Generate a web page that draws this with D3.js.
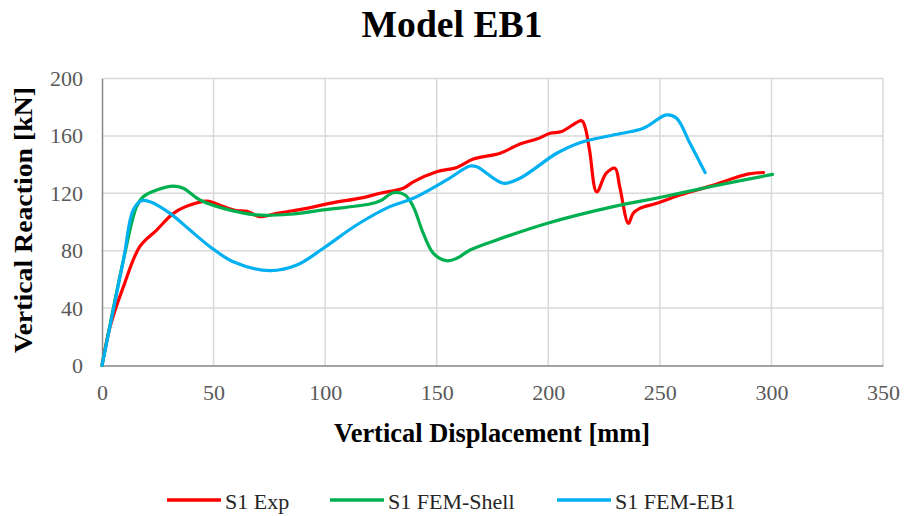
<!DOCTYPE html>
<html><head><meta charset="utf-8">
<script src="https://cdn.jsdelivr.net/npm/d3@7"></script>
<style>body{margin:0;background:#fff}svg{display:block}
svg text{font-family:"Liberation Serif","Times New Roman","DejaVu Serif",serif !important;}
</style>
</head><body>
<svg id="chart" width="905" height="516"></svg>
<script>
const title = "Model EB1";
const xLabel = "Vertical Displacement [mm]";
const yLabel = "Vertical Reaction [kN]";
const xTicks = [0, 50, 100, 150, 200, 250, 300, 350];
const yTicks = [0, 40, 80, 120, 160, 200];
const seriesNames = ["S1 Exp", "S1 FEM-Shell", "S1 FEM-EB1"];
const seriesColors = ["#ff0000", "#00b050", "#00b0f0"];

const expX = [0,3.6,9.6,17,24.5,32,39.4,47,54.4,60,65,70.8,78.3,91.7,102,117,124.6,135,139.5,150,159,166.4,178.4,187.3,194.8,200.8,206,215,216.5,218.5,221.7,226,229.9,232,235.9,238,241,248.6,259,272.5,282,290,296.5];
const expY = [0,27,55,83,94.4,106,111.8,114.6,110.7,108,107.5,103.7,106,109.5,113,117,120,123.5,128,135,138,143.9,147.9,154.4,157.8,161.8,163,170.6,166,150,121,134,137.4,124.6,99,106,109.5,113,118.8,125,130,133.5,134.5];

const shellX = [0,9.6,15.5,18.5,24.5,32,36.4,43.9,54.4,69.3,84.3,99.2,120,125,130.5,135.8,139.5,144,148.5,154.5,159,165,176.9,199.3,229.1,251.5,272.5,300.5];
const shellY = [0,73.5,110.7,117.6,122.3,125,123.5,115.3,109.5,104.9,105.4,108.4,112.5,115,120.4,118.8,110.7,92,78.2,73,74.7,80.5,87.5,99,110.7,117.6,124.6,133.2];

const eb1X = [0,9.6,14,17.8,21.5,30.5,39.4,48.4,58.8,75.3,87.3,99.2,114.1,129,139.5,154.5,164.9,168,179.8,187.3,203.8,214.2,229.1,242.6,253,257.5,263.5,270.3];
const eb1Y = [0,73.5,108.4,114.8,114.1,106,94.4,82.8,72.3,66.1,70,81.7,97.9,110.7,116.5,129.3,139,138.5,127,130.5,147.9,155.3,160.6,165.3,174.6,172.3,154.8,134.4];

const seriesX = [expX, shellX, eb1X];
const seriesY = [expY, shellY, eb1Y];

const svg = d3.select("#chart");
const L = 102, R = 883, T = 78.5, B = 365.5;
const x = d3.scaleLinear().domain([0, 350]).range([L, R]);
const y = d3.scaleLinear().domain([0, 200]).range([B, T]);

// gridlines
svg.append("g").selectAll("line.h").data(yTicks.slice(1)).join("line")
  .attr("x1", L).attr("x2", R).attr("y1", d => y(d)).attr("y2", d => y(d))
  .attr("stroke", "#d9d9d9").attr("stroke-width", 1.5);
svg.append("g").selectAll("line.v").data(xTicks.slice(1)).join("line")
  .attr("x1", d => x(d)).attr("x2", d => x(d)).attr("y1", T).attr("y2", B)
  .attr("stroke", "#d9d9d9").attr("stroke-width", 1.5);

// axes
const xAxis = svg.append("g").attr("transform", `translate(0,${B})`)
  .call(d3.axisBottom(x).tickValues(xTicks).tickSize(0).tickPadding(19));
const yAxis = svg.append("g").attr("transform", `translate(${L},0)`)
  .call(d3.axisLeft(y).tickValues(yTicks).tickSize(0).tickPadding(19));
[xAxis, yAxis].forEach(g => {
  g.attr("font-family", null);
  g.select(".domain").attr("stroke", "#868686").attr("stroke-width", 1.5);
  g.selectAll("text").attr("font-size", 22).attr("fill", "#595959");
});

// lines
const line = d3.line().curve(d3.curveCatmullRom.alpha(0.5));
seriesX.forEach((xs, i) => {
  const pts = xs.map((v, j) => [x(v), y(seriesY[i][j])]);
  svg.append("path").attr("d", line(pts)).attr("fill", "none")
    .attr("stroke", seriesColors[i]).attr("stroke-width", 3.2)
    .attr("stroke-linejoin", "round").attr("stroke-linecap", "round");
});

// titles
svg.append("text").attr("x", 452).attr("y", 37).attr("text-anchor", "middle")
  .attr("font-weight", "bold").attr("font-size", 37)
  .attr("textLength", 181).attr("lengthAdjust", "spacingAndGlyphs")
  .text(title);
svg.append("text").attr("x", 492).attr("y", 442).attr("text-anchor", "middle")
  .attr("font-weight", "bold").attr("font-size", 27)
  .attr("textLength", 316).attr("lengthAdjust", "spacingAndGlyphs")
  .text(xLabel);
svg.append("text").attr("transform", "translate(32,220) rotate(-90)").attr("text-anchor", "middle")
  .attr("font-weight", "bold").attr("font-size", 25)
  .attr("textLength", 266).attr("lengthAdjust", "spacingAndGlyphs")
  .text(yLabel);

// legend
const legX = [167, 330, 557];
const lg = svg.append("g");
seriesNames.forEach((n, i) => {
  lg.append("line").attr("x1", legX[i]).attr("x2", legX[i] + 54).attr("y1", 500).attr("y2", 500)
    .attr("stroke", seriesColors[i]).attr("stroke-width", 3.5);
  lg.append("text").attr("x", legX[i] + 58).attr("y", 509)
    .attr("font-size", 22).attr("fill", "#262626").text(n);
});
</script>
</body></html>
